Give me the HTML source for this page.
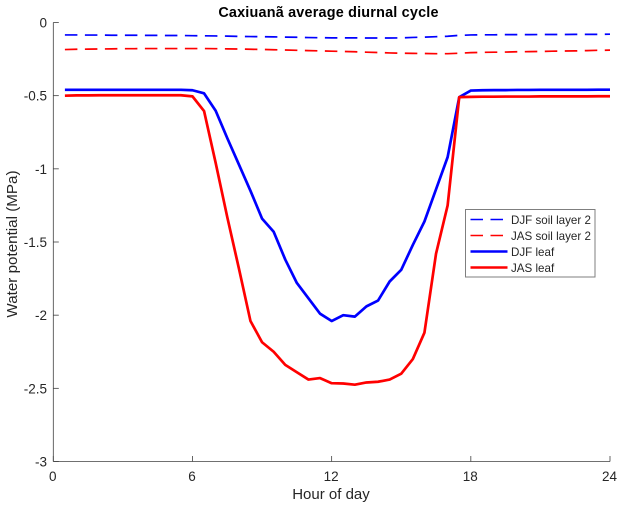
<!DOCTYPE html>
<html>
<head>
<meta charset="utf-8">
<style>
html,body{margin:0;padding:0;background:#fff}
svg{display:block;font-family:"Liberation Sans",sans-serif}
</style>
</head>
<body>
<svg id="chart" xmlns="http://www.w3.org/2000/svg" width="623" height="509" viewBox="0 0 623 509"></svg>
<script>
const hours = [0.5,1,1.5,2,2.5,3,3.5,4,4.5,5,5.5,6,6.5,7,7.5,8,8.5,9,9.5,10,10.5,11,11.5,12,12.5,13,13.5,14,14.5,15,15.5,16,16.5,17,17.5,18,18.5,19,19.5,20,20.5,21,21.5,22,22.5,23,23.5,24];
const djfSoil = [-0.085,-0.085,-0.086,-0.086,-0.087,-0.087,-0.087,-0.088,-0.088,-0.089,-0.089,-0.09,-0.091,-0.092,-0.093,-0.095,-0.096,-0.097,-0.098,-0.1,-0.101,-0.103,-0.104,-0.105,-0.105,-0.105,-0.106,-0.106,-0.106,-0.105,-0.102,-0.1,-0.097,-0.094,-0.088,-0.085,-0.084,-0.084,-0.083,-0.083,-0.083,-0.082,-0.082,-0.082,-0.081,-0.081,-0.081,-0.08];
const jasSoil = [-0.185,-0.183,-0.182,-0.181,-0.18,-0.179,-0.179,-0.178,-0.178,-0.178,-0.178,-0.178,-0.178,-0.179,-0.18,-0.181,-0.183,-0.184,-0.186,-0.188,-0.19,-0.192,-0.194,-0.196,-0.198,-0.2,-0.203,-0.205,-0.208,-0.21,-0.211,-0.212,-0.213,-0.213,-0.21,-0.206,-0.204,-0.203,-0.202,-0.2,-0.199,-0.198,-0.196,-0.195,-0.194,-0.192,-0.19,-0.189];
const djfLeaf = [-0.46,-0.46,-0.46,-0.46,-0.46,-0.46,-0.46,-0.46,-0.46,-0.46,-0.46,-0.463,-0.484,-0.603,-0.79,-0.97,-1.15,-1.34,-1.43,-1.62,-1.78,-1.885,-1.99,-2.04,-2.0,-2.01,-1.94,-1.9,-1.77,-1.69,-1.52,-1.36,-1.14,-0.92,-0.51,-0.465,-0.463,-0.462,-0.462,-0.461,-0.461,-0.46,-0.46,-0.46,-0.46,-0.46,-0.459,-0.459];
const jasLeaf = [-0.5,-0.498,-0.498,-0.497,-0.497,-0.497,-0.497,-0.497,-0.497,-0.497,-0.497,-0.505,-0.605,-0.96,-1.33,-1.68,-2.04,-2.185,-2.25,-2.34,-2.39,-2.44,-2.43,-2.465,-2.467,-2.475,-2.46,-2.455,-2.44,-2.4,-2.3,-2.12,-1.58,-1.25,-0.51,-0.508,-0.507,-0.507,-0.506,-0.506,-0.506,-0.505,-0.505,-0.505,-0.505,-0.505,-0.504,-0.504];
const xTicks = [0,6,12,18,24];
const yTicks = [0,-0.5,-1,-1.5,-2,-2.5,-3];
const yTickLabels = ["0","-0.5","-1","-1.5","-2","-2.5","-3"];
const legendLabels = ["DJF soil layer 2","JAS soil layer 2","DJF leaf","JAS leaf"];

const svg = document.getElementById('chart');
const NS = 'http://www.w3.org/2000/svg';
const xScale = h => 53.3 + h * (610 - 53.3) / 24;
const yScale = v => 22.5 - v * (461.5 - 22.5) / 3;
const axisColor = '#404040';
const textColor = '#262626';

function make(tag, attrs, text) {
  const el = document.createElementNS(NS, tag);
  for (const k in attrs) el.setAttribute(k, attrs[k]);
  if (text !== undefined) el.textContent = text;
  svg.appendChild(el);
  return el;
}

let el;
// axes
el = make('line', {x1: xScale(0), y1: yScale(0), x2: xScale(0), y2: yScale(-3), stroke: axisColor, 'stroke-width': 0.8});


el = make('line', {x1: xScale(0), y1: yScale(-3), x2: xScale(24), y2: yScale(-3), stroke: axisColor, 'stroke-width': 0.8});



xTicks.forEach(t => {
  el = make('line', {x1: xScale(t), y1: yScale(-3), x2: xScale(t), y2: yScale(-3) - 5.5, stroke: axisColor, 'stroke-width': 0.8});
  
  
  el = make('text', {x: xScale(t) - 0.5, y: 481, 'text-anchor': 'middle', 'font-size': 13.5, fill: textColor}, String(t));
  
  
});
yTicks.forEach((t, i) => {
  el = make('line', {x1: xScale(0), y1: yScale(t), x2: xScale(0) + 5.5, y2: yScale(t), stroke: axisColor, 'stroke-width': 0.8});
  
  
  el = make('text', {x: 47, y: yScale(t) + 5, 'text-anchor': 'end', 'font-size': 13.5, fill: textColor}, yTickLabels[i]);
  
  
});

// titles
el = make('text', {x: 328.5, y: 17, 'text-anchor': 'middle', 'font-size': 14.4, 'font-weight': 'bold', 'letter-spacing': 0.2, fill: '#000'}, 'Caxiuanã average diurnal cycle');


el = make('text', {x: 331, y: 499, 'text-anchor': 'middle', 'font-size': 15, fill: textColor}, 'Hour of day');


el = make('text', {x: 0, y: 0, 'text-anchor': 'middle', 'font-size': 15.2, fill: textColor, transform: 'translate(17 244) rotate(-90)'}, 'Water potential (MPa)');



// series
function seriesPath(values) {
  return values.map((v, i) => (i ? 'L' : 'M') + xScale(hours[i]).toFixed(2) + ' ' + yScale(v).toFixed(2)).join(' ');
}
el = make('path', {d: seriesPath(djfSoil), fill: 'none', stroke: '#0000ff', 'stroke-width': 1.7, 'stroke-dasharray': '12.5 7.5'});


el = make('path', {d: seriesPath(jasSoil), fill: 'none', stroke: '#ff0000', 'stroke-width': 1.7, 'stroke-dasharray': '12.5 7.5'});


el = make('path', {d: seriesPath(djfLeaf), fill: 'none', stroke: '#0000ff', 'stroke-width': 2.7, 'stroke-linejoin': 'round'});


el = make('path', {d: seriesPath(jasLeaf), fill: 'none', stroke: '#ff0000', 'stroke-width': 2.7, 'stroke-linejoin': 'round'});



// legend
el = make('rect', {x: 465.5, y: 209.5, width: 129.5, height: 67.5, fill: '#fff', stroke: '#7f7f7f', 'stroke-width': 1});


const legendColors = ['#0000ff', '#ff0000', '#0000ff', '#ff0000'];
legendLabels.forEach((label, i) => {
  const y = 219.5 + i * 16;
  const dashed = i < 2;
  const attrs = {x1: 470.5, y1: y, x2: dashed ? 503 : 507.5, y2: y, stroke: legendColors[i], 'stroke-width': dashed ? 1.6 : 2.6};
  if (dashed) attrs['stroke-dasharray'] = '12.5 7.5';
  el = make('line', attrs);
  
  
  el = make('text', {x: 511, y: y + 4.5, 'font-size': 11.6, fill: textColor}, label);
  
  
});
</script>
</body>
</html>
